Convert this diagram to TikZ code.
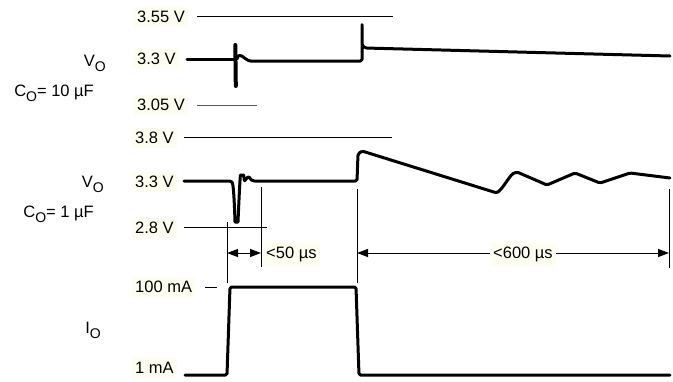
\documentclass[tikz,border=0pt]{standalone}
\usepackage{fontspec}
\setmainfont{Liberation Sans}
\usetikzlibrary{arrows.meta}
\definecolor{lblbg}{RGB}{254,254,240}
\definecolor{refgrey}{RGB}{90,90,90}
\newcommand{\subO}{\raisebox{-5.5pt}{\fontsize{14}{15}\selectfont O}}
\begin{document}
\begin{tikzpicture}[x=1pt,y=-1pt,
  lbl/.style={fill=lblbg,inner xsep=3pt,inner ysep=4.5pt,anchor=west,font=\fontsize{16.5}{18}\selectfont},
  sym/.style={anchor=base east,inner sep=0pt,font=\fontsize{16.5}{18}\selectfont},
  trace/.style={line width=3pt,line join=round,line cap=round,rounded corners=1.5pt},
  thinline/.style={line width=1pt},
  dim/.style={line width=1pt,{Triangle[length=11pt,width=8pt]}-{Triangle[length=11pt,width=8pt]}}]
\useasboundingbox (0,0) rectangle (673,381);

% ---------- level labels ----------
\node[lbl] (l355) at (134,17) {3.55 V};
\node[lbl] (l33a) at (134,59) {3.3 V};
\node[lbl] (l305) at (134,105) {3.05 V};
\node[lbl] (l38)  at (132,138) {3.8 V};
\node[lbl] (l33b) at (132,182) {3.3 V};
\node[lbl] (l28)  at (132,228) {2.8 V};
\node[lbl] (l100) at (132,287) {100 mA};
\node[lbl] (l1)   at (132,368) {1 mA};

% ---------- signal names ----------
\node[sym] (vo1) at (106,66) {V\subO};
\node[sym] (co1) at (94,96) {C\subO= 10 µF};
\node[sym] (vo2) at (104,187) {V\subO};
\node[sym] (co2) at (94,217) {C\subO= 1 µF};
\node[sym] (io)  at (101,333) {I\subO};

% ---------- reference lines ----------
\draw[thinline] (197,16) -- (393,16);
\draw[thinline,refgrey] (197,105) -- (257,105);
\draw[thinline] (184,137) -- (392,137);
\draw[thinline] (184,227) -- (267,227);
\draw[thinline] (205,287) -- (217,287);

% ---------- top trace (10 uF) ----------
\draw[trace] (187,59) -- (236,59);
\draw[line width=4pt,line cap=round] (235.3,45) -- (235.8,86);
\draw[trace] (237,59) .. controls (238,55) and (240,54.5) .. (243,57) -- (249,61) -- (362,61) -- (362,23) -- (362,45) -- (365,48) -- (670,56);

% ---------- middle trace (1 uF) ----------
\draw[trace] (184,181) -- (231,181) .. controls (234,184) and (235,222) .. (236.5,222)
  .. controls (238,222) and (240,175) .. (242,175) .. controls (244,175) and (244,181) .. (246,180)
  .. controls (247,177) and (249,176) .. (250,179) -- (253,181) -- (357,181) -- (358,154)
  -- (362,151) -- (497,193) -- (502,188) -- (512,174) -- (517,172) -- (547,185)
  -- (575,173) -- (600,183) -- (630,173) -- (670,178);

% ---------- current trace ----------
\draw[trace] (185,375) -- (227,375) -- (230,287) -- (356,287) -- (359,375) -- (670,375);

% ---------- timing markers ----------
\coordinate (m1t) at (227,222); \coordinate (m1b) at (227,283);
\coordinate (m2t) at (261,187); \coordinate (m2b) at (261,267);
\coordinate (m3t) at (357,189); \coordinate (m3b) at (357,283);
\coordinate (m4t) at (669,189); \coordinate (m4b) at (669,268);
\draw[thinline] (m1t) -- (m1b);
\draw[thinline] (m2t) -- (m2b);
\draw[thinline] (m3t) -- (m3b);
\draw[thinline] (m4t) -- (m4b);
\coordinate (a1) at (227,253); \coordinate (a2) at (261,253);
\coordinate (a3) at (357,253); \coordinate (a4) at (669,253);
\draw[dim] (a1) -- (a2);
\draw[dim] (a3) -- (a4);
\node[lbl] (t50) at (263,254) {<50 µs};
\node[lbl,anchor=center] (t600) at (523,254) {<600 µs};
\end{tikzpicture}
\end{document}
